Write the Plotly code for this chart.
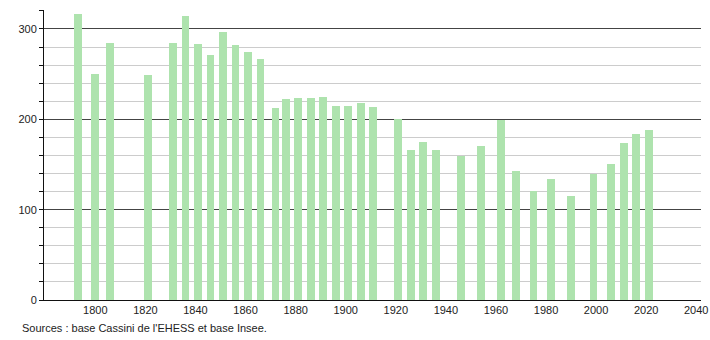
import plotly.graph_objects as go

years = [1793, 1800, 1806, 1821, 1831, 1836, 1841, 1846, 1851, 1856, 1861, 1866,
         1872, 1876, 1881, 1886, 1891, 1896, 1901, 1906, 1911, 1921, 1926, 1931,
         1936, 1946, 1954, 1962, 1968, 1975, 1982, 1990, 1999, 2006, 2011, 2016, 2021]
population = [317, 250, 285, 249, 285, 314, 283, 271, 297, 282, 275, 267,
              212, 223, 224, 224, 225, 215, 215, 218, 214, 200, 166, 175,
              166, 159, 171, 199, 143, 121, 134, 115, 140, 150, 174, 184, 188]
x_ticks = [1800, 1820, 1840, 1860, 1880, 1900, 1920, 1940, 1960, 1980, 2000, 2020, 2040]
y_ticks = [0, 100, 200, 300]
source_text = "Sources : base Cassini de l'EHESS et base Insee."

fig = go.Figure(go.Bar(
    x=years, y=population, width=3.1,
    marker=dict(color="#aee3ae", line=dict(width=0)),
    hoverinfo="x+y",
))

fig.update_layout(
    width=710, height=340,
    margin=dict(l=44, r=9, t=10, b=40),
    plot_bgcolor="white", paper_bgcolor="white",
    font=dict(family="Liberation Sans, Arial, sans-serif", size=11, color="#222"),
    showlegend=False,
    bargap=0,
)
fig.update_xaxes(
    range=[1779.5, 2041.9], tickvals=x_ticks, showgrid=False, zeroline=False,
    showline=True, linecolor="#111", linewidth=1, ticks="", fixedrange=True,
    automargin=False,
)
fig.update_yaxes(
    range=[0, 321], tickvals=y_ticks, showgrid=True, gridcolor="#444", gridwidth=1,
    zeroline=False, showline=True, linecolor="#111", linewidth=1,
    ticks="outside", ticklen=4, tickcolor="#111", automargin=False,
    minor=dict(dtick=20, tick0=0, showgrid=True, gridcolor="#cccccc", gridwidth=1,
               ticks="outside", ticklen=4, tickcolor="#111"),
)
fig.add_annotation(
    text=source_text, xref="paper", yref="paper", x=-24/657, y=-20/290,
    xanchor="left", yanchor="top", showarrow=False,
    font=dict(size=11, color="#222"),
)
fig.write_html("out.html")
